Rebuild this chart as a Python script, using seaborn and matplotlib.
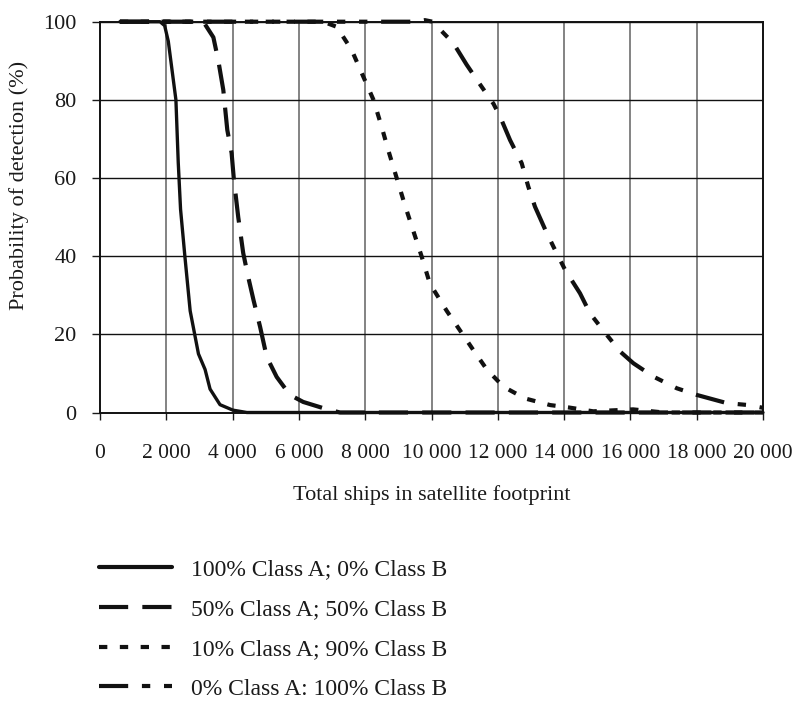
import numpy as np
import pandas as pd
import matplotlib
matplotlib.use("Agg")
import matplotlib.pyplot as plt
import seaborn as sns

# ---- data ----
series_names = ["100% Class A; 0% Class B",
                "50% Class A; 50% Class B",
                "10% Class A; 90% Class B",
                "0% Class A: 100% Class B"]

s1_x = [600, 1810, 1950, 2060, 2290, 2360, 2430, 2560, 2720, 2970, 3170, 3320, 3620, 4010, 4430, 20000]
s1_y = [100, 100, 99, 95, 80, 64, 52, 40, 26, 15, 11, 6, 2, 0.6, 0, 0]

s2_x = [600, 3117, 3420, 3570, 3720, 3840, 3970, 4040, 4170, 4320, 4470, 4630, 4830, 5030, 5330, 5730, 6130, 6740, 7240, 20000]
s2_y = [100, 100, 96, 90, 82.5, 72.3, 66.4, 59.5, 50, 40.8, 34.7, 28.8, 21.9, 14.2, 9.1, 4.5, 2.7, 1.1, 0, 0]

s3_x = [600, 6730, 7140, 7590, 7940, 8250, 8500, 8700, 8950, 9200, 9450, 9700, 9950, 10460, 10860, 11260,
        11670, 12170, 12820, 13580, 14130, 14880, 16080, 17000, 20000]
s3_y = [100, 100, 98.7, 92.8, 86, 80, 73, 67, 60, 53, 46.5, 40, 33, 26, 21, 16,
        11, 6.6, 3.6, 1.9, 1.3, 0.3, 0.8, 0, 0]

s4_x = [600, 9500, 9800, 10030, 10660, 11060, 11460, 11870, 12070, 12370, 12720, 12920, 13120, 13430, 13680,
        14030, 14480, 14780, 15180, 15690, 16090, 16690, 17400, 18000, 18910, 19560, 20000]
s4_y = [100, 100, 100.4, 100, 94.5, 89, 84, 79, 75.7, 69.7, 63.8, 57.8, 52.7, 46.8, 42.4,
        36.5, 30.5, 25.4, 21, 15.6, 12.6, 9.2, 6.2, 4.5, 2.4, 1.9, 1.2]

x_ticks = [0, 2000, 4000, 6000, 8000, 10000, 12000, 14000, 16000, 18000, 20000]
x_tick_labels = ["0", "2 000", "4 000", "6 000", "8 000", "10 000", "12 000", "14 000", "16 000", "18 000", "20 000"]
y_ticks = [0, 20, 40, 60, 80, 100]

frames = []
for name, xs, ys in zip(series_names, [s1_x, s2_x, s3_x, s4_x], [s1_y, s2_y, s3_y, s4_y]):
    frames.append(pd.DataFrame({"ships": xs, "prob": ys, "series": name}))
df = pd.concat(frames, ignore_index=True)

# ---- style ----
sns.set_style("white")
plt.rcParams["font.family"] = ["Liberation Serif", "DejaVu Serif"]
plt.rcParams["text.color"] = "#1a1a1a"
plt.rcParams["axes.labelcolor"] = "#1a1a1a"
plt.rcParams["xtick.color"] = "#1a1a1a"
plt.rcParams["ytick.color"] = "#1a1a1a"

fig = plt.figure(figsize=(7.93, 7.02), dpi=100)
ax = fig.add_axes([100 / 793, 1 - 412.5 / 702, 663 / 793, 390.8 / 702])

dash_map = {
    series_names[0]: "",
    series_names[1]: (7, 3.4),
    series_names[2]: (2, 3.0),
    series_names[3]: (7, 3.3, 2, 3.3, 2, 3.3),
}
palette = {n: "#111111" for n in series_names}

sns.lineplot(data=df, x="ships", y="prob", hue="series", style="series",
             hue_order=series_names, style_order=series_names,
             palette=palette, dashes=dash_map, estimator=None, sort=False,
             linewidth=3.0, ax=ax, legend=False, clip_on=False, zorder=5)
ax.lines[0].set_linewidth(2.4)

ax.set_xlim(0, 20000)
ax.set_ylim(0, 100)
ax.set_xticks(x_ticks)
ax.set_xticklabels(x_tick_labels)
ax.set_yticks(y_ticks)

# grid
for xv in x_ticks[1:-1]:
    ax.axvline(xv, color="#7a7a7a", lw=1.3, zorder=1)
for yv in y_ticks[1:]:
    ax.axhline(yv, color="#111111", lw=1.0, zorder=1)

for sp in ax.spines.values():
    sp.set_visible(True)
    sp.set_color("#111111")
    sp.set_linewidth(1.4)

ax.tick_params(axis="y", which="major", direction="out", length=6, width=1.0,
               pad=11, labelsize=16, left=True)
ax.tick_params(axis="x", which="major", direction="out", length=5, width=1.0,
               pad=18, labelsize=15.5, bottom=True)

ax.set_xlabel("Total ships in satellite footprint", fontsize=16)
ax.set_ylabel("Probability of detection (%)", fontsize=16)
ax.xaxis.set_label_coords(0.5, -0.21)
ax.xaxis.label.set_va("center")
ax.yaxis.set_label_coords(-0.122, 0.582)
ax.yaxis.label.set_va("center")

handles = ax.lines[:4]
leg = fig.legend(handles, series_names, loc="upper left", bbox_to_anchor=(99 / 793, 1 - 559 / 702),
                 frameon=False, fontsize=17, handlelength=3.1, handletextpad=0.78,
                 labelspacing=0.77, borderpad=0, borderaxespad=0)
leg.get_lines()[0].set_linewidth(3.0)

fig.savefig("out.png", dpi=100)
